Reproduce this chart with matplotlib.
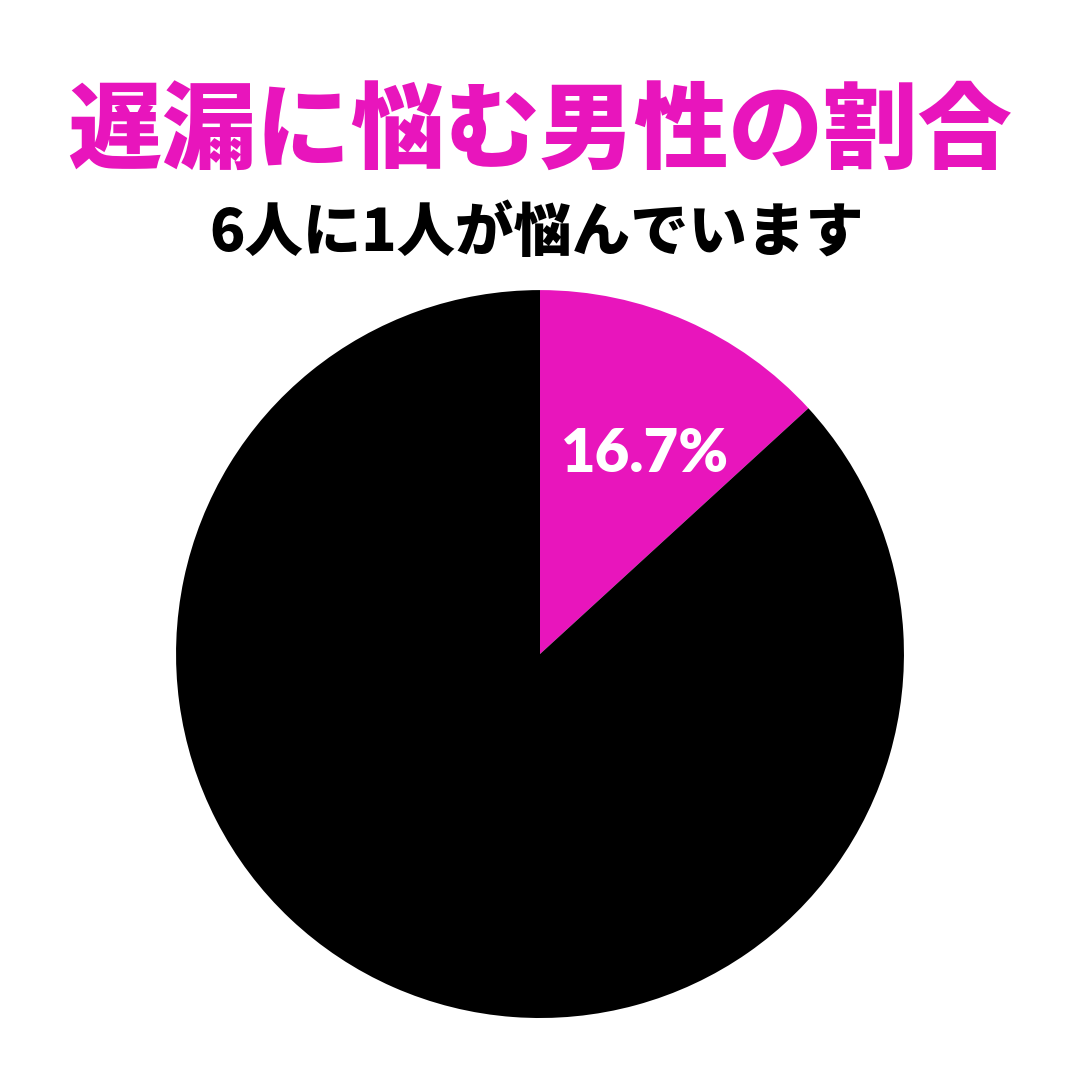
import matplotlib.pyplot as plt
import matplotlib.transforms as mtransforms
import numpy as np

plt.rcParams['font.family'] = ['Noto Sans CJK JP', 'DejaVu Sans']

# data (slice as drawn, label as printed)
categories = ['悩んでいる', '悩んでいない']
shares = [13.2, 86.8]
slice_labels = ['16.7%', '']
colors = ['#E815BC', '#000000']

title = '遅漏に悩む男性の割合'
subtitle = '6人に1人が悩んでいます'

fig = plt.figure(figsize=(10.8, 10.8), dpi=100)
fig.patch.set_facecolor('white')

ax = fig.add_axes([0.163, 0.0574, 0.674, 0.674])
wedges, texts = ax.pie(shares, colors=colors, startangle=90, counterclock=False,
                       labels=slice_labels, labeldistance=0.6, radius=1.0,
                       wedgeprops=dict(linewidth=0))
for t in texts:
    t.set_color('white')
    t.set_fontsize(43)
    t.set_fontweight('heavy')
    t.set_family(['Lato', 'DejaVu Sans'])
    t.set_ha('center')
    t.set_va('center')
    # nudge a little to the right like the original
    t.set_transform(mtransforms.offset_copy(t.get_transform(), fig=fig,
                                            x=17, y=0, units='dots'))
ax.set_xlim(-1, 1)
ax.set_ylim(-1, 1)
ax.set_aspect('equal')
ax.axis('off')

fig.text(0.5, 0.877, title, ha='center', va='center', fontsize=68,
         fontweight='heavy', color='#E815BC')
fig.text(0.497, 0.784, subtitle, ha='center', va='center', fontsize=42,
         fontweight='heavy', color='black')

fig.savefig('out.png', dpi=100, facecolor='white')
